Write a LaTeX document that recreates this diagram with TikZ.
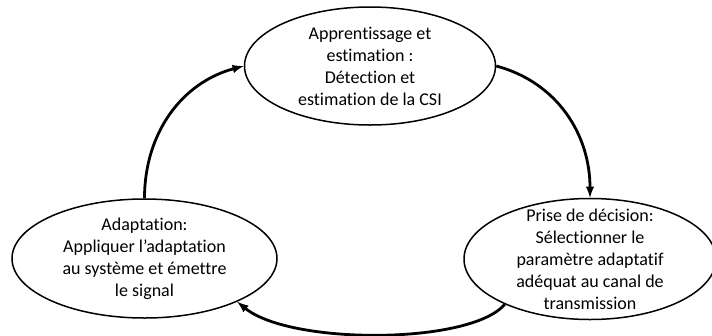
\documentclass[tikz,border=0pt]{standalone}
\usepackage{fontspec}
\setmainfont{Carlito}[Ligatures=CommonOff]
\usepackage{tikz}
\usetikzlibrary{positioning, shapes.geometric, arrows}

\begin{document}
\begin{tikzpicture}[x=1pt, y=-1pt,
  phase/.style={draw, line width=1.5pt, ellipse, inner sep=0pt},
  every label/.style={align=center, inner sep=0pt, font=\fontsize{18}{22}\selectfont},
  loop/.style={-latex, line width=2.8pt}]
\useasboundingbox (0,0) rectangle (712,335);
\node[phase, minimum width=251, minimum height=118,
  label=center:{Apprentissage et\\estimation :\\D\'etection et\\estimation de la CSI}]
  (learn) at (370,66) {};
\node[phase, minimum width=252, minimum height=121,
  label=center:{Prise de d\'ecision:\\S\'electionner le\\param\`etre adaptatif\\ad\'equat au canal de\\transmission}]
  (decide) at (590,259) {};
\node[phase, minimum width=265, minimum height=119,
  label=center:{Adaptation:\\Appliquer l’adaptation\\au syst\`eme et \'emettre\\le signal}]
  (adapt) at (144.5,258.5) {};

\draw
	(adapt.north) edge[loop, out=90, in=195] (learn.west)
	(learn.east) edge[loop, out=-15, in=90] (decide.north)
;
\draw[loop] (decide.-152) .. controls (470,345) and (290,345) .. (adapt.-25);
\end{tikzpicture}
\end{document}
